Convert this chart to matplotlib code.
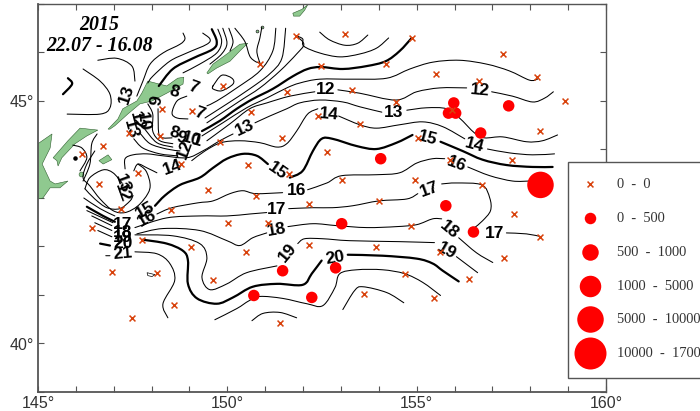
import matplotlib
matplotlib.use("Agg")
import matplotlib.pyplot as plt
from matplotlib.path import Path
from matplotlib.patches import PathPatch, Polygon, Rectangle

CROSS_LON = [150.86,151.81,149.88,151.57,148.27,149.06,150.62,147.40,148.22,151.44,149.80,146.72,146.16,148.77,150.54,151.62,147.64,146.61,149.49,150.75,147.19,148.51,146.42,147.74,149.04,150.01,151.07,150.49,146.95,148.14,149.62,148.59,147.48,151.39,153.10,154.87,152.47,154.18,155.50,157.27,158.19,156.64,153.28,154.45,158.91,155.92,152.39,153.50,158.25,155.03,152.63,157.51,155.87,153.02,154.95,156.72,152.15,154.00,157.56,158.25,154.84,152.15,153.92,155.61,157.30,156.37,154.68,153.60,155.45]
CROSS_LAT = [45.76,46.34,45.31,45.19,44.84,44.79,44.77,44.34,44.28,44.24,44.16,44.07,43.91,43.70,43.68,43.50,43.52,43.29,43.17,43.05,42.78,42.76,42.39,42.14,41.98,42.49,42.49,41.89,41.48,41.46,41.30,40.80,40.53,40.43,46.38,46.30,45.72,45.76,45.56,45.97,45.49,45.41,45.23,44.98,45.00,44.81,44.69,44.53,44.38,44.24,43.95,43.79,43.79,43.37,43.37,43.27,42.88,42.94,42.67,42.20,42.43,42.04,41.98,41.89,41.77,41.34,41.44,41.03,40.93]

CATCH_LON = [158.27,155.77,153.02,156.50,152.86,152.23,151.46,150.70,154.05,156.69,157.43,155.98,155.84,156.03]
CATCH_LAT = [43.27,42.84,42.47,42.30,41.56,40.95,41.50,40.99,43.81,44.34,44.90,44.96,44.75,44.75]
CATCH_CLASS = [4,1,1,1,1,1,1,1,1,1,1,1,1,1]
LEGEND_LABELS = ["0  -  0","0  -  500","500  -  1000","1000  -  5000","5000  -  10000","10000  -  17000"]
CLASS_DIAM_PX = [0,11.5,16.5,21.5,26.5,32]

THIN = [
 [(152.44,46.42),(152.70,46.26),(153.10,46.15),(153.44,46.19),(153.71,46.36)],
 [(151.83,46.34),(151.99,46.28),(152.02,46.13),(152.44,45.99),(152.97,45.91),(153.50,45.97),(153.94,46.09),(154.26,46.30)],
 [(149.33,44.28),(149.88,44.55),(150.51,44.86),(151.04,45.06),(151.57,45.27),(151.91,45.37),(152.44,45.45),(153.31,45.45),(154.21,45.47),(154.82,45.66),(155.42,45.80),(156.13,45.84),(156.85,45.76),(157.45,45.62),(157.98,45.43),(158.19,45.45)],
 [(149.46,44.18),(150.07,44.53),(150.59,44.84),(151.04,44.96),(151.65,45.10),(152.31,45.19)],
 [(152.92,45.23),(153.50,45.16),(154.45,45.02),(155.00,45.19),(155.61,45.27),(156.32,45.27)],
 [(156.98,45.19),(157.53,45.10),(158.06,44.98),(158.38,45.06),(158.61,45.19)],
 [(147.30,43.60),(147.30,43.81),(147.51,43.89),(147.88,43.91),(148.30,43.87),(148.93,43.83),(149.35,43.97),(149.80,44.18),(150.15,44.32)],
 [(150.73,44.55),(151.12,44.69),(151.57,44.84),(151.91,44.96),(152.44,45.02),(153.05,44.98),(153.50,44.88),(154.08,44.77)],
 [(154.74,44.81),(155.26,44.86),(155.79,44.84),(156.13,44.65),(156.53,44.34),(156.79,44.24),(157.27,44.26),(157.90,44.16),(158.32,44.18),(158.72,44.30)],
 [(149.06,43.77),(149.41,43.97),(149.83,44.14),(150.33,44.18),(150.86,44.14),(151.31,44.05),(151.57,44.12),(151.83,44.38),(152.12,44.73),(152.39,44.84)],
 [(152.94,44.69),(153.50,44.51),(153.94,44.44),(154.55,44.51),(155.16,44.57),(155.69,44.47),(156.27,44.22)],
 [(156.87,44.01),(157.45,43.93),(158.06,43.89),(158.64,43.91)],
 [(148.14,43.52),(147.88,43.62),(147.64,43.70),(147.53,43.56)],
 [(147.64,43.70),(147.85,43.56),(147.96,43.29),(147.90,43.09),(147.64,42.84),(147.30,42.70),(146.98,42.74),(146.64,42.98),(146.37,43.25),(146.19,43.42),(146.29,43.70),(146.50,43.97)],
 [(146.24,43.19),(146.37,43.42),(146.72,43.58),(146.98,43.52),(147.22,43.31)],
 [(146.24,43.19),(146.50,42.98),(146.82,42.80),(147.16,42.78),(147.43,42.94),(147.51,43.05)],
 [(148.14,42.67),(148.54,42.80),(149.22,42.90),(149.62,42.94),(150.07,43.09),(150.41,43.15),(150.75,43.09),(151.46,43.11)],
 [(152.12,43.17),(152.63,43.31),(153.02,43.46),(153.94,43.48),(154.55,43.52),(155.00,43.72),(155.42,43.81),(155.74,43.81)],
 [(156.35,43.64),(156.93,43.46),(157.53,43.35),(157.98,43.35)],
 [(147.56,42.39),(148.40,42.59),(149.27,42.63),(149.99,42.63),(150.59,42.67),(151.04,42.70)],
 [(151.62,42.78),(152.26,42.80),(152.78,42.80),(153.31,42.84),(154.00,42.94),(154.74,42.98),(155.03,43.09)],
 [(155.66,43.29),(156.05,43.31),(156.72,43.27),(156.93,43.00),(156.95,42.74),(156.74,42.53),(156.53,42.39)],
 [(157.37,42.28),(157.90,42.26),(158.30,42.20)],
 [(147.61,42.26),(148.30,42.37),(149.27,42.33),(149.99,42.12),(150.33,42.02),(150.67,42.18),(151.04,42.28)],
 [(151.60,42.41),(152.26,42.47),(152.89,42.43),(153.68,42.39),(154.47,42.41),(155.00,42.45),(155.42,42.57),(155.66,42.57)],
 [(156.11,42.18),(156.58,41.87),(157.01,41.67)],
 [(147.56,42.24),(148.56,42.22),(149.27,42.06),(149.46,41.77),(149.33,41.36),(149.54,41.11),(149.99,41.23),(150.51,41.46),(151.31,41.60)],
 [(151.86,42.06),(152.04,42.16),(152.52,42.16),(153.23,42.12),(154.55,42.10),(155.47,42.08)],
 [(156.05,41.79),(156.61,41.46)],
 [(147.56,41.89),(148.14,41.85),(148.48,41.65),(148.61,41.30),(148.30,40.82),(148.43,40.53)],
 [(149.67,40.49),(150.25,40.72),(150.57,40.88),(150.86,40.97),(151.46,40.93),(152.10,40.82),(152.52,40.78),(152.84,41.15),(152.97,41.44),(153.42,41.52),(154.10,41.52),(154.68,41.44),(155.16,41.26),(155.63,40.99)],
 [(150.65,40.47),(150.94,40.62),(151.39,40.64),(151.83,40.53)],
 [(153.05,40.70),(153.36,41.09),(153.58,41.17),(154.21,41.05),(154.66,40.84)],
 [(146.21,43.00),(146.64,42.78),(147.03,42.63)],
 [(146.29,42.74),(146.98,42.49)],
 [(146.42,42.63),(146.95,42.43)],
 [(146.50,42.49),(146.95,42.33)],
 [(146.58,42.33),(146.95,42.20)],
 [(146.79,41.81),(146.90,41.81)],
 [(146.19,45.66),(146.64,45.41),(146.90,45.14),(146.90,44.86),(146.64,44.73),(145.77,44.73)],
 [(146.58,45.84),(147.08,45.88),(147.48,45.72),(147.56,45.41)],
 [(148.83,46.40),(148.88,46.28),(148.75,46.17),(148.30,45.99),(147.96,45.76),(147.77,45.41),(147.61,45.10)],
 [(149.35,46.40),(149.54,46.28),(149.46,46.17),(148.93,45.99),(148.48,45.82),(148.03,45.51),(147.90,45.37)],
 [(149.75,46.48),(149.85,46.23),(149.72,45.99),(149.27,45.76),(148.83,45.58)],
 [(149.88,46.50),(149.99,46.19),(149.85,45.97),(149.54,45.76)],
 [(150.04,46.50),(150.15,46.23),(150.07,46.03)],
 [(150.20,46.50),(150.46,46.23),(150.59,45.93),(150.73,45.82),(150.86,45.78)],
 [(150.91,46.52),(150.86,46.30),(150.78,46.03),(150.86,45.78)],
 [(151.28,46.50),(151.20,46.03),(150.86,45.62),(150.25,45.27),(149.72,45.00),(149.46,44.90)],
 [(151.54,46.50),(151.44,45.88),(151.12,45.56),(150.59,45.25),(149.99,44.94),(149.41,44.65)],
 [(151.83,46.34),(152.02,46.17),(151.83,45.97),(151.39,45.62),(150.86,45.27),(150.33,45.00),(149.46,44.55)],
 [(148.93,45.10),(148.67,45.00),(148.54,44.75),(148.67,44.65),(148.96,44.63)],
 [(149.62,45.31),(149.85,45.53),(150.12,45.47),(150.15,45.35),(149.85,45.21),(149.62,45.25),(149.62,45.31)],
 [(148.17,44.84),(148.19,44.32),(148.30,44.24),(148.54,44.24)],
 [(147.90,44.94),(148.03,44.73),(148.03,44.38),(148.22,44.18),(148.56,44.12)],
 [(147.53,44.22),(147.77,44.03),(148.22,43.91),(148.67,43.87)],
 [(147.69,44.34),(147.96,44.12),(148.40,44.01),(148.75,43.97)],
 [(147.82,44.42),(148.14,44.14),(148.56,44.05)],
 [(146.56,44.32),(146.42,44.12),(146.37,43.70),(146.19,43.35)],
 [(145.92,44.09),(146.16,44.03),(146.29,43.83),(146.11,43.56)],
]

THICK = [
 [(149.33,44.38),(149.80,44.59),(150.25,44.84),(150.67,45.04),(151.20,45.25),(151.73,45.51),(152.12,45.66),(152.47,45.70),(153.05,45.66),(153.68,45.72),(154.18,45.82),(154.55,46.03),(154.87,46.30)],
 [(148.09,42.84),(148.35,43.05),(148.75,43.27),(149.27,43.42),(149.62,43.62),(149.99,43.81),(150.41,43.91),(150.78,43.87),(151.07,43.70)],
 [(151.65,43.42),(151.99,43.56),(152.26,43.97),(152.49,44.22),(152.78,44.22),(153.42,44.07),(153.94,44.01),(154.47,44.14),(154.89,44.30)],
 [(155.63,44.16),(156.21,43.97),(156.74,43.79),(157.37,43.68),(158.06,43.64),(158.59,43.64)],
 [(147.77,42.14),(148.40,42.06),(148.83,41.91),(148.96,41.71),(148.96,41.23),(149.20,40.93),(149.72,40.82),(150.15,40.95),(150.67,41.17),(151.31,41.23),(151.99,41.21),(152.23,41.44),(152.49,41.71)],
 [(153.18,41.83),(154.10,41.81),(155.00,41.75),(155.42,41.65),(155.69,41.50),(156.11,41.28)],
 [(146.29,42.82),(146.72,42.63),(147.03,42.51)],
 [(146.64,42.06),(146.90,42.02)],
 [(145.79,45.47),(145.90,45.35),(145.66,45.14)],
 [(149.59,46.48),(149.72,46.23),(149.62,46.07),(149.09,45.88),(148.56,45.66),(148.19,45.31)],
]

LAND = [
 [(145.00,44.12),(145.37,44.32),(145.32,44.03),(145.11,43.70),(145.32,43.35),(145.45,43.29),(145.79,43.35),(145.58,43.21),(145.32,43.21),(145.13,43.00),(145.00,42.98)],
 [(145.40,43.83),(145.79,44.18),(146.11,44.44),(146.58,44.40),(146.29,44.28),(145.98,44.12),(145.63,43.83),(145.53,43.66),(145.50,43.77)],
 [(146.85,44.42),(147.11,44.63),(147.24,44.84),(147.61,45.00),(147.74,45.16),(147.90,45.41),(148.40,45.31),(148.69,45.47),(148.85,45.49),(148.83,45.35),(148.40,45.16),(148.01,45.00),(147.69,44.94),(147.37,44.73),(147.03,44.49),(146.90,44.42)],
 [(149.46,45.58),(149.62,45.76),(149.99,45.97),(150.33,46.17),(150.54,46.19),(150.33,46.03),(150.07,45.82),(149.72,45.68),(149.49,45.56)],
 [(146.61,43.77),(146.85,43.89),(146.95,43.79),(146.72,43.70)],
 [(151.73,46.81),(151.97,46.89),(152.12,46.98),(152.04,46.87),(151.91,46.75),(151.75,46.75)],
]
ISLET_WHITE = [(147.88,41.46),(148.09,41.42),(148.01,41.38),(147.90,41.40)]
ISLET_LON = [146.13,145.98,150.78,150.91]
ISLET_LAT = [43.50,43.83,46.44,46.52]

LABELS = [
 ("13",147.35,45.14,72),("8",148.61,45.19,-15),("7",149.09,45.27,-20),("7",149.25,44.75,-20),
 ("9",148.14,45.02,80),("10",147.77,44.57,-80),("12",147.61,44.59,-75),("13",147.45,44.42,-75),
 ("8",148.61,44.34,-15),("9",148.77,44.24,-15),("10",149.06,44.22,-15),("1",149.20,44.18,-15),
 ("12",148.88,44.01,70),("13",150.46,44.44,25),("14",148.54,43.62,20),("15",151.33,43.56,-35),
 ("13",147.24,43.29,-70),("12",147.22,43.11,-70),("12",152.60,45.23,0),("12",156.66,45.21,-5),
 ("13",154.39,44.77,0),("14",152.68,44.73,-5),("14",156.53,44.09,-15),("15",155.29,44.24,-15),
 ("16",156.05,43.70,-20),("16",151.83,43.15,0),("17",151.31,42.76,0),("17",155.34,43.17,20),
 ("17",157.06,42.26,0),("18",151.31,42.35,10),("18",155.87,42.35,-40),("19",151.60,41.87,50),
 ("19",155.79,41.91,-30),("20",152.84,41.77,10),("15",147.82,42.74,30),("16",147.88,42.59,30),
 ("17",147.24,42.45,0),("18",147.24,42.28,0),("19",147.24,42.18,0),("20",147.24,42.06,0),("21",147.24,41.85,5),
]
XTICKS_MAJOR = [145,150,155,160]
YTICKS_MAJOR = [40,45]
TITLE_LINES = ["2015","22.07 - 16.08"]

CROSS_COL = "#d8420c"
RED = "#ff0000"
GRAY = "#555555"


def smooth_path(pts):
    """Catmull-Rom curve through the given points, as Bezier segments."""
    n = len(pts)
    verts = [pts[0]]
    codes = [Path.MOVETO]
    for i in range(n - 1):
        p0 = pts[max(i - 1, 0)]
        p1, p2 = pts[i], pts[i + 1]
        p3 = pts[min(i + 2, n - 1)]
        c1 = (p1[0] + (p2[0] - p0[0]) / 6, p1[1] + (p2[1] - p0[1]) / 6)
        c2 = (p2[0] - (p3[0] - p1[0]) / 6, p2[1] - (p3[1] - p1[1]) / 6)
        verts += [c1, c2, p2]
        codes += [Path.CURVE4] * 3
    return Path(verts, codes)


fig = plt.figure(figsize=(7.0, 4.11), dpi=100)
ax = fig.add_axes([38 / 700, 1 - 392 / 411, (606 - 38) / 700, (392 - 4) / 411])
ax.set_xlim(145, 160)
ax.set_ylim(39, 47)

for poly in LAND:
    ax.add_patch(Polygon(poly, closed=True, fc="#8fc98f", ec="#2f5f2f", lw=0.4, zorder=2))
ax.add_patch(Polygon(ISLET_WHITE, closed=True, fc="white", ec="black", lw=0.5, zorder=2))
ax.scatter(ISLET_LON[:1], ISLET_LAT[:1], s=12, c="#8fc98f", edgecolors="#2f5f2f", linewidths=0.4, zorder=2)
ax.scatter(ISLET_LON[1:2], ISLET_LAT[1:2], s=5, c="black", zorder=2)
ax.scatter(ISLET_LON[2:], ISLET_LAT[2:], s=4, c="#8fc98f", edgecolors="#222222", linewidths=0.5, zorder=2)

for line in THIN:
    ax.add_patch(PathPatch(smooth_path(line), fc="none", ec="black", lw=0.75, zorder=3, capstyle="round"))
for line in THICK:
    ax.add_patch(PathPatch(smooth_path(line), fc="none", ec="black", lw=1.6, zorder=3, capstyle="round"))

for txt, lon, lat, rot in LABELS:
    ax.text(lon, lat, txt, rotation=rot, rotation_mode="anchor", ha="center", va="center",
            fontsize=12.5, fontweight="bold", family="Liberation Sans", color="black", zorder=4)

sizes = [(CLASS_DIAM_PX[c] * 0.72) ** 2 for c in CATCH_CLASS]
ax.scatter(CATCH_LON, CATCH_LAT, s=sizes, c=RED, linewidths=0, zorder=5)
ax.scatter(CROSS_LON, CROSS_LAT, s=18, marker="x", c=CROSS_COL, linewidths=1.1, zorder=6)

ax.set_xticks(range(145, 161))
ax.set_yticks(range(39, 48))
ax.set_xticklabels([f"{v}°" if v in XTICKS_MAJOR else "" for v in range(145, 161)])
ax.set_yticklabels([f"{v}°" if v in YTICKS_MAJOR else "" for v in range(39, 48)])
ax.tick_params(axis="both", direction="in", length=4.0, width=0.8, color=GRAY, top=True, right=True,
               labelsize=11.5, labelcolor="#333333", pad=3)
for lab in ax.get_xticklabels() + ax.get_yticklabels():
    lab.set_family("Liberation Sans")
for s in ax.spines.values():
    s.set_color(GRAY)
    s.set_linewidth(1.0)
for s in ("left", "bottom"):
    ax.spines[s].set_linewidth(1.3)

ax.text(146.63, 46.56, TITLE_LINES[0], ha="center", va="center", fontsize=14.3, family="Liberation Serif",
        fontweight="bold", style="italic", color="black", zorder=7)
ax.text(146.63, 46.13, TITLE_LINES[1], ha="center", va="center", fontsize=14.3, family="Liberation Serif",
        fontweight="bold", style="italic", color="black", zorder=7)

ov = fig.add_axes([0, 0, 1, 1], zorder=10)
ov.set_xlim(0, 700)
ov.set_ylim(411, 0)
ov.axis("off")
ov.patch.set_alpha(0)
ov.add_patch(Rectangle((568, 162), 140, 216, fc="white", ec=GRAY, lw=1.0, clip_on=False))
ROW_Y = [184, 218, 252, 286, 319, 353]
for i, (lab, y) in enumerate(zip(LEGEND_LABELS, ROW_Y)):
    if i == 0:
        ov.scatter([590], [y], s=18, marker="x", c=CROSS_COL, linewidths=1.1)
    else:
        ov.scatter([590], [y], s=(CLASS_DIAM_PX[i] * 0.72) ** 2, c=RED, linewidths=0)
    ov.text(617, y, lab, ha="left", va="center", fontsize=10.4, family="Liberation Serif", color="#333333")

fig.savefig("out.png", dpi=100)
